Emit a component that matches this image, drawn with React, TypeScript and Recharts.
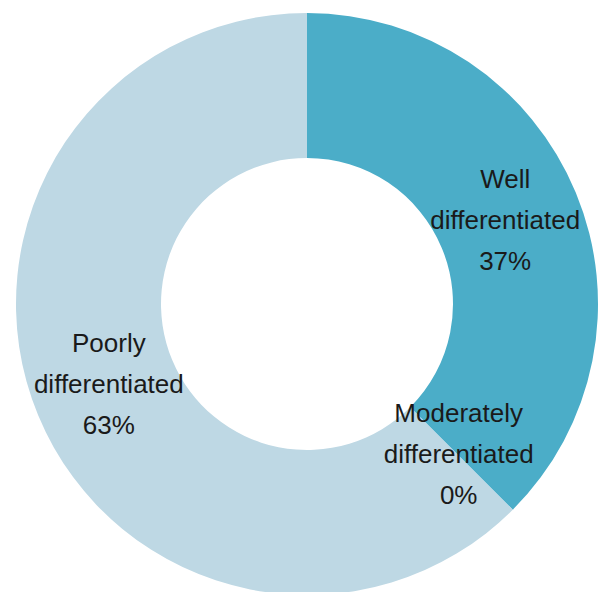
import React from 'react';
import { PieChart, Pie, Cell } from 'recharts';

// grade categories, shares (%), colours
const grades = ['Well differentiated', 'Moderately differentiated', 'Poorly differentiated'];
// slice sizes as drawn (3/8, 0, 5/8), labels rounded in the figure
const shares = [37.5, 0, 62.5];
const labelLines = [
  ['Well', 'differentiated', '37%'],
  ['Moderately', 'differentiated', '0%'],
  ['Poorly', 'differentiated', '63%'],
];
const colors = ['#4badc8', '#4badc8', '#bed8e4'];

const data = grades.map((name, i) => ({ name, value: shares[i] }));

const RADIAN = Math.PI / 180;

const renderLabel = (props: any) => {
  const { cx, cy, midAngle, innerRadius, outerRadius, index } = props;
  const r = (innerRadius + outerRadius) / 2 - 4;
  const x = cx + r * Math.cos(-midAngle * RADIAN);
  const y = cy + r * Math.sin(-midAngle * RADIAN);
  const lines = labelLines[index];
  const lineHeight = 41;
  return (
    <text
      x={x}
      y={y}
      textAnchor="middle"
      fill="#1a1a1a"
      fontSize={26}
      fontFamily="'Liberation Sans', Arial, sans-serif"
    >
      {lines.map((t, i) => (
        <tspan key={i} x={x} y={y + (i - 1) * lineHeight + 7}>
          {t}
        </tspan>
      ))}
    </text>
  );
};

export default function App() {
  return (
    <div style={{ position: 'absolute', left: 0, top: 0, width: 600, height: 592, background: '#fff' }}>
      <PieChart width={600} height={592} margin={{ top: 0, right: 0, bottom: 0, left: 0 }}>
        <Pie
          data={data}
          dataKey="value"
          nameKey="name"
          cx={307}
          cy={304}
          innerRadius={146}
          outerRadius={291}
          startAngle={90}
          endAngle={-270}
          stroke="none"
          label={renderLabel}
          labelLine={false}
          isAnimationActive={false}
        >
          {data.map((d, i) => (
            <Cell key={d.name} fill={colors[i]} />
          ))}
        </Pie>
      </PieChart>
    </div>
  );
}
